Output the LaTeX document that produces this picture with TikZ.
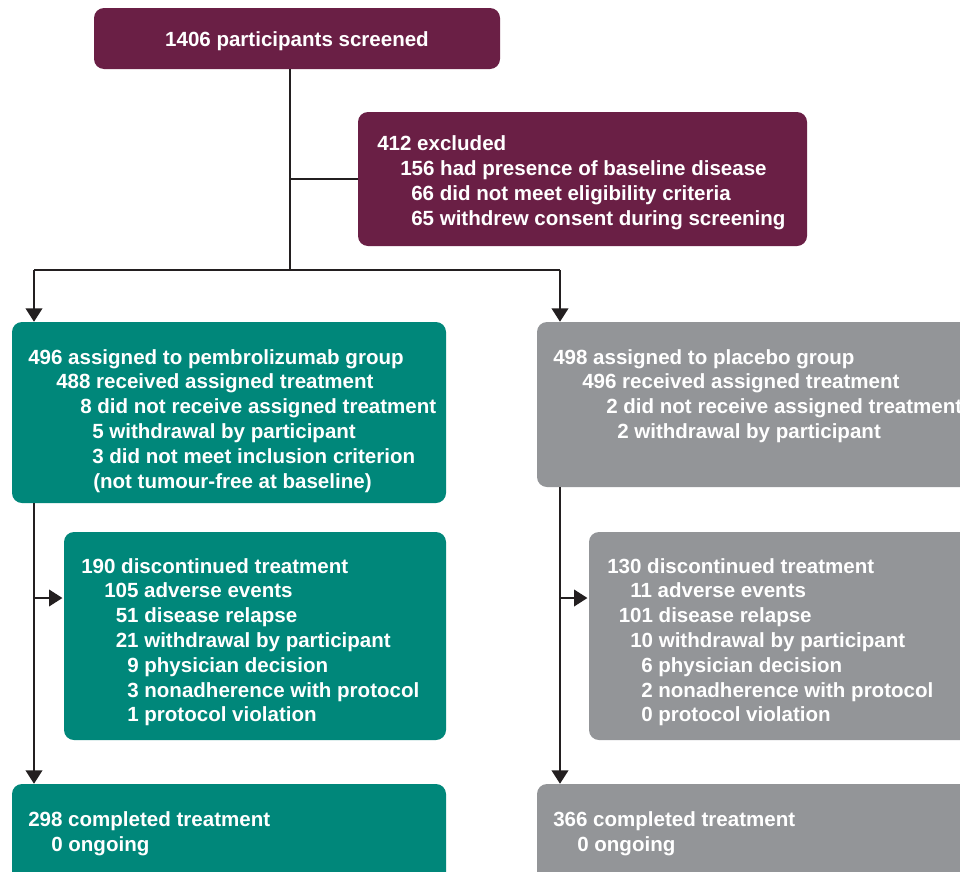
\documentclass[tikz,border=0pt]{standalone}
\usepackage{fontspec}
\setmainfont{Liberation Sans}
\usetikzlibrary{fit,arrows.meta}
\definecolor{maroon}{HTML}{6A1F45}
\definecolor{teal}{HTML}{00877A}
\definecolor{grey}{HTML}{939598}
\definecolor{ink}{HTML}{231F20}
\tikzset{
  box/.style={rounded corners=7.5pt, inner sep=0pt, draw=none},
  mbox/.style={box, fill=maroon},
  tbox/.style={box, fill=teal},
  gbox/.style={box, fill=grey},
  txt/.style={anchor=base west, inner sep=0pt, text=white, font=\fontsize{15.4}{18}\selectfont\bfseries},
  conn/.style={draw=ink, line width=1.1pt},
  arr/.style={conn, -{Triangle[width=12.5pt,length=10pt]}},
}
\begin{document}
\begin{tikzpicture}[x=0.75pt,y=-0.75pt]
\useasboundingbox (0,0) rectangle (960,871);
\clip (0,0) rectangle (960,871);
\fill[white] (0,0) rectangle (960,871);

% boxes
\node[mbox, fit={(94,8) (500,69)}] (top) {};
\node[mbox, fit={(358,112) (807,246)}] (excl) {};
\node[tbox, fit={(12,322) (446,503)}] (pem) {};
\node[gbox, fit={(537,322) (985,487)}] (pla) {};
\node[tbox, fit={(64,532) (446,740)}] (pemd) {};
\node[gbox, fit={(589,532) (985,740)}] (plad) {};
\node[tbox, fit={(12,784) (446,890)}] (pemc) {};
\node[gbox, fit={(537,784) (985,890)}] (plac) {};

% texts
\node[txt, anchor=base] (t0) at (297,46) {1406 participants screened};

\node[txt] (e1) at (377,150) {412 excluded};
\node[txt] (e2) at (400,175) {156 had presence of baseline disease};
\node[txt] (e3) at (411,200) {66 did not meet eligibility criteria};
\node[txt] (e4) at (411,225) {65 withdrew consent during screening};

\node[txt] (p1) at (28,364) {496 assigned to pembrolizumab group};
\node[txt] (p2) at (56,388.8) {488 received assigned treatment};
\node[txt] (p3) at (80,413.6) {8 did not receive assigned treatment};
\node[txt] (p4) at (92,438.4) {5 withdrawal by participant};
\node[txt] (p5) at (92,463.2) {3 did not meet inclusion criterion};
\node[txt] (p6) at (93,488) {(not tumour-free at baseline)};

\node[txt] (q1) at (553,364) {498 assigned to placebo group};
\node[txt] (q2) at (582,388.8) {496 received assigned treatment};
\node[txt] (q3) at (606,413.6) {2 did not receive assigned treatment};
\node[txt] (q4) at (617,438.4) {2 withdrawal by participant};

\node[txt] (d1) at (81,573) {190 discontinued treatment};
\node[txt] (d2) at (104,597.8) {105 adverse events};
\node[txt] (d3) at (115.5,622.6) {51 disease relapse};
\node[txt] (d4) at (115.5,647.4) {21 withdrawal by participant};
\node[txt] (d5) at (127,672.2) {9 physician decision};
\node[txt] (d6) at (127,697) {3 nonadherence with protocol};
\node[txt] (d7) at (127,721.8) {1 protocol violation};

\node[txt] (f1) at (607,573) {130 discontinued treatment};
\node[txt] (f2) at (630,597.8) {11 adverse events};
\node[txt] (f3) at (618.5,622.6) {101 disease relapse};
\node[txt] (f4) at (630,647.4) {10 withdrawal by participant};
\node[txt] (f5) at (641,672.2) {6 physician decision};
\node[txt] (f6) at (641,697) {2 nonadherence with protocol};
\node[txt] (f7) at (641,721.8) {0 protocol violation};

\node[txt] (c1) at (28,826) {298 completed treatment};
\node[txt] (c2) at (51,851) {0 ongoing};
\node[txt] (g1) at (553,826) {366 completed treatment};
\node[txt] (g2) at (577,851) {0 ongoing};

% connectors
\coordinate (split) at (290,270);
\coordinate (lft) at (34,270);
\coordinate (rgt) at (560,270);
\coordinate (lb) at (34,598);
\coordinate (rb) at (560,598);

\draw[conn] (top.south -| split) -- (split);
\draw[conn] (split |- excl.west) -- (excl.west);
\draw[conn] (lft) -- (rgt);
\draw[arr] (lft) -- (pem.north -| lft);
\draw[arr] (rgt) -- (pla.north -| rgt);
\draw[arr] (pem.south -| lft) -- (pemc.north -| lft);
\draw[arr] (pla.south -| rgt) -- (plac.north -| rgt);
\draw[arr] (lb) -- ([xshift=-1pt]lb -| pemd.west);
\draw[arr] (rb) -- ([xshift=-1pt]rb -| plad.west);
\end{tikzpicture}
\end{document}
